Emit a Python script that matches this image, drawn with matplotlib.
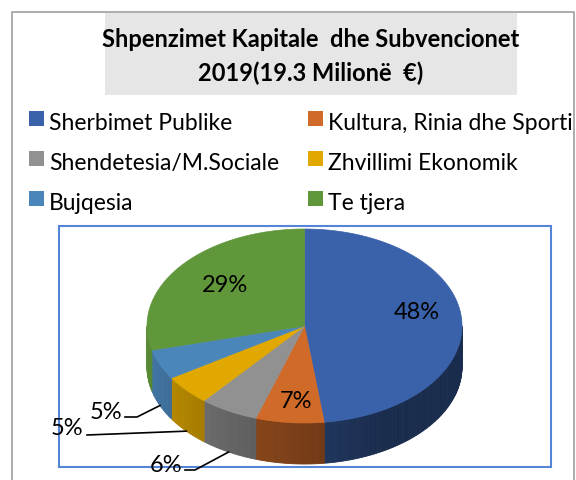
import numpy as np
import matplotlib
matplotlib.use("Agg")
import matplotlib.pyplot as plt
from matplotlib.patches import Rectangle, Polygon

plt.rcParams['font.family'] = ['Lato', 'DejaVu Sans']

# data
categories = ['Sherbimet Publike', 'Kultura, Rinia dhe Sporti', 'Shendetesia/M.Sociale',
              'Zhvillimi Ekonomik', 'Bujqesia', 'Te tjera']
shares = [48, 7, 6, 5, 5, 29]
colors = ['#3a62aa', '#d06a28', '#919191', '#e0a800', '#4b86bb', '#61973b']
title = 'Shpenzimet Kapitale  dhe Subvencionet\n2019(19.3 Milionë  €)'

# layout (pixel units, y down)
cx, cy, rx, ry, depth = 304.5, 327.0, 157.5, 97.0, 41.0
label_pos = [(417, 313), (296, 402), (166, 466), (67, 429), (106, 413), (225, 286)]
# leader: (text side x, elbow x) for outside labels
leaders = {2: (185, 195), 3: (87, 87), 4: (125, 137)}


def ell(t):
    t = np.radians(t)
    return cx + rx * np.sin(t), cy - ry * np.cos(t)


def shade(col, f):
    c = np.array(matplotlib.colors.to_rgb(col))
    return tuple(np.clip(c * f, 0, 1))


def side_factor(t):
    return 0.45 + 0.47 * np.clip((t - 150) / 115.0, 0, 1)


fig = plt.figure(figsize=(5.76, 4.81), dpi=100)
ax = fig.add_axes([0, 0, 1, 1])
ax.set_xlim(0, 576)
ax.set_ylim(481, 0)
ax.axis('off')

# outer frame
ax.plot([12, 12, 574, 574], [481, 13, 13, 481], color='#a6a6a6', lw=1.3, zorder=0)

# title box
ax.add_patch(Rectangle((105, 14), 412, 82, facecolor='#e7e6e6', edgecolor='none', zorder=1))
t1, t2 = title.split('\n')
ax.text(311, 47, t1, ha='center', va='baseline', fontsize=17, fontweight='bold')
ax.text(311, 81, t2, ha='center', va='baseline', fontsize=17, fontweight='bold')

# legend
for i, (name, col) in enumerate(zip(categories, colors)):
    row, colm = i // 2, i % 2
    x0 = 29 if colm == 0 else 308
    yb = 130 + 40 * row
    ax.add_patch(Rectangle((x0, yb - 18), 15, 15, facecolor=col, edgecolor='none'))
    ax.text(x0 + 20, yb, name, ha='left', va='baseline', fontsize=16.5, clip_on=False)

# pie frame
ax.add_patch(Rectangle((59, 227), 492, 241, facecolor='none', edgecolor='#5585d6', lw=1.5, zorder=1))

# pie
bounds = np.concatenate([[0], np.cumsum(shares)]) / sum(shares) * 360.0
for i, col in enumerate(colors):
    a0, a1 = bounds[i], bounds[i + 1]
    # side
    s0, s1 = max(a0, 90), min(a1, 270)
    if s1 > s0:
        ts = np.linspace(s0, s1, int(np.ceil(s1 - s0)) + 1)
        for ta, tb in zip(ts[:-1], ts[1:]):
            xa, ya = ell(ta)
            xb, yb = ell(tb)
            c = shade(col, side_factor((ta + tb) / 2))
            ax.add_patch(Polygon([(xa, ya), (xb, yb), (xb, yb + depth), (xa, ya + depth)],
                                 facecolor=c, edgecolor=c, lw=0.6, zorder=2))
    # top
    ts = np.linspace(a0, a1, max(int(a1 - a0), 2) + 1)
    xs, ys = ell(ts)
    pts = [(cx, cy)] + list(zip(xs, ys))
    ax.add_patch(Polygon(pts, facecolor=col, edgecolor=col, lw=0.5, zorder=3))

# labels
for i, s in enumerate(shares):
    x, y = label_pos[i]
    ax.text(x, y, f'{s}%', ha='center', va='center', fontsize=17, zorder=5)
    if i in leaders:
        mid = (bounds[i] + bounds[i + 1]) / 2
        ex, ey = ell(mid)
        ey += depth
        lx, bx = leaders[i]
        ly = y + 5 if i != 3 else y + 7
        ax.plot([lx, bx, ex], [ly, ly, ey], color='black', lw=1.2, zorder=4)

fig.savefig('out.png', dpi=100)
